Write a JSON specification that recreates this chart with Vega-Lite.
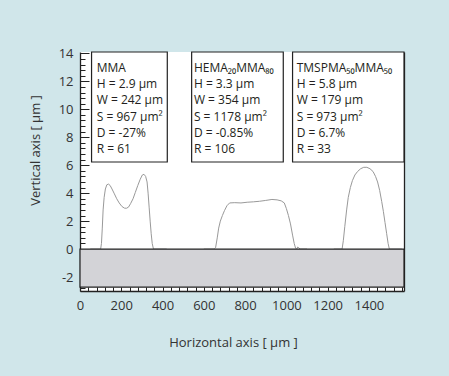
{
  "$schema": "https://vega.github.io/schema/vega-lite/v6.json",
  "width": 324,
  "height": 239,
  "autosize": {"type": "none"},
  "padding": {"left": 80, "top": 52, "right": 45, "bottom": 85},
  "background": "#d0e6ea",
  "config": {"view": {"stroke": null, "fill": "white"}, "font": "Open Sans"},
  "datasets": {
    "profiles": [
      {"s": "MMA", "x": 50, "y": 0}, {"s": "MMA", "x": 100, "y": 0}, {"s": "MMA", "x": 104, "y": 0.4}, {"s": "MMA", "x": 108, "y": 1.5}, {"s": "MMA", "x": 112, "y": 2.8}, {"s": "MMA", "x": 117, "y": 3.7}, {"s": "MMA", "x": 123, "y": 4.3}, {"s": "MMA", "x": 130, "y": 4.6}, {"s": "MMA", "x": 138, "y": 4.65}, {"s": "MMA", "x": 146, "y": 4.55}, {"s": "MMA", "x": 155, "y": 4.3}, {"s": "MMA", "x": 165, "y": 4.0}, {"s": "MMA", "x": 178, "y": 3.6}, {"s": "MMA", "x": 190, "y": 3.3}, {"s": "MMA", "x": 203, "y": 3.05}, {"s": "MMA", "x": 215, "y": 2.93}, {"s": "MMA", "x": 225, "y": 2.92}, {"s": "MMA", "x": 235, "y": 3.0}, {"s": "MMA", "x": 245, "y": 3.25}, {"s": "MMA", "x": 257, "y": 3.6}, {"s": "MMA", "x": 268, "y": 4.05}, {"s": "MMA", "x": 280, "y": 4.55}, {"s": "MMA", "x": 292, "y": 5.0}, {"s": "MMA", "x": 302, "y": 5.3}, {"s": "MMA", "x": 310, "y": 5.35}, {"s": "MMA", "x": 318, "y": 5.2}, {"s": "MMA", "x": 325, "y": 4.8}, {"s": "MMA", "x": 330, "y": 4.0}, {"s": "MMA", "x": 335, "y": 3.0}, {"s": "MMA", "x": 340, "y": 2.0}, {"s": "MMA", "x": 345, "y": 1.1}, {"s": "MMA", "x": 350, "y": 0.4}, {"s": "MMA", "x": 356, "y": 0}, {"s": "MMA", "x": 420, "y": 0},
      {"s": "HEMA", "x": 600, "y": 0}, {"s": "HEMA", "x": 650, "y": 0}, {"s": "HEMA", "x": 657, "y": 0.1}, {"s": "HEMA", "x": 665, "y": 0.8}, {"s": "HEMA", "x": 672, "y": 1.5}, {"s": "HEMA", "x": 680, "y": 2.0}, {"s": "HEMA", "x": 690, "y": 2.4}, {"s": "HEMA", "x": 700, "y": 2.75}, {"s": "HEMA", "x": 712, "y": 3.1}, {"s": "HEMA", "x": 725, "y": 3.3}, {"s": "HEMA", "x": 750, "y": 3.32}, {"s": "HEMA", "x": 780, "y": 3.3}, {"s": "HEMA", "x": 810, "y": 3.35}, {"s": "HEMA", "x": 840, "y": 3.38}, {"s": "HEMA", "x": 870, "y": 3.42}, {"s": "HEMA", "x": 900, "y": 3.48}, {"s": "HEMA", "x": 930, "y": 3.55}, {"s": "HEMA", "x": 955, "y": 3.52}, {"s": "HEMA", "x": 975, "y": 3.45}, {"s": "HEMA", "x": 990, "y": 3.3}, {"s": "HEMA", "x": 1000, "y": 2.9}, {"s": "HEMA", "x": 1010, "y": 2.4}, {"s": "HEMA", "x": 1020, "y": 1.8}, {"s": "HEMA", "x": 1030, "y": 1.0}, {"s": "HEMA", "x": 1038, "y": 0.4}, {"s": "HEMA", "x": 1045, "y": 0.05}, {"s": "HEMA", "x": 1050, "y": 0}, {"s": "HEMA", "x": 1055, "y": 0.15}, {"s": "HEMA", "x": 1060, "y": 0.1}, {"s": "HEMA", "x": 1066, "y": 0}, {"s": "HEMA", "x": 1100, "y": 0},
      {"s": "TMSPMA", "x": 1230, "y": 0}, {"s": "TMSPMA", "x": 1270, "y": 0}, {"s": "TMSPMA", "x": 1276, "y": 0.6}, {"s": "TMSPMA", "x": 1283, "y": 1.6}, {"s": "TMSPMA", "x": 1292, "y": 2.8}, {"s": "TMSPMA", "x": 1300, "y": 3.7}, {"s": "TMSPMA", "x": 1310, "y": 4.4}, {"s": "TMSPMA", "x": 1320, "y": 4.9}, {"s": "TMSPMA", "x": 1332, "y": 5.3}, {"s": "TMSPMA", "x": 1345, "y": 5.55}, {"s": "TMSPMA", "x": 1360, "y": 5.75}, {"s": "TMSPMA", "x": 1375, "y": 5.85}, {"s": "TMSPMA", "x": 1390, "y": 5.85}, {"s": "TMSPMA", "x": 1405, "y": 5.75}, {"s": "TMSPMA", "x": 1420, "y": 5.55}, {"s": "TMSPMA", "x": 1432, "y": 5.2}, {"s": "TMSPMA", "x": 1442, "y": 4.8}, {"s": "TMSPMA", "x": 1452, "y": 4.2}, {"s": "TMSPMA", "x": 1462, "y": 3.4}, {"s": "TMSPMA", "x": 1470, "y": 2.7}, {"s": "TMSPMA", "x": 1478, "y": 1.9}, {"s": "TMSPMA", "x": 1486, "y": 1.1}, {"s": "TMSPMA", "x": 1493, "y": 0.4}, {"s": "TMSPMA", "x": 1499, "y": 0}, {"s": "TMSPMA", "x": 1560, "y": 0}
    ],
    "ground": [{"x1": 0, "x2": 1570, "y1": -2.72, "y2": 0}],
    "boxes": [
      {"x1": 56, "x2": 423, "y1": 6.23, "y2": 14.1},
      {"x1": 541, "x2": 985, "y1": 6.23, "y2": 14.1},
      {"x1": 1030, "x2": 1570, "y1": 6.23, "y2": 14.1}
    ],
    "texts": [
      {"t": "MMA", "x": 81, "y": 12.98}, {"t": "H = 2.9 µm", "x": 81, "y": 11.81}, {"t": "W = 242 µm", "x": 81, "y": 10.65}, {"t": "S = 967 µm²", "x": 81, "y": 9.48}, {"t": "D = -27%", "x": 81, "y": 8.32}, {"t": "R = 61", "x": 81, "y": 7.15},
      {"t": "HEMA₂₀MMA₈₀", "x": 552, "y": 12.98}, {"t": "H = 3.3 µm", "x": 552, "y": 11.81}, {"t": "W = 354 µm", "x": 552, "y": 10.65}, {"t": "S = 1178 µm²", "x": 552, "y": 9.48}, {"t": "D = -0.85%", "x": 552, "y": 8.32}, {"t": "R = 106", "x": 552, "y": 7.15},
      {"t": "TMSPMA₅₀MMA₅₀", "x": 1050, "y": 12.98}, {"t": "H = 5.8 µm", "x": 1050, "y": 11.81}, {"t": "W = 179 µm", "x": 1050, "y": 10.65}, {"t": "S = 973 µm²", "x": 1050, "y": 9.48}, {"t": "D = 6.7%", "x": 1050, "y": 8.32}, {"t": "R = 33", "x": 1050, "y": 7.15}
    ]
  },
  "layer": [
    {
      "data": {"name": "profiles"},
      "mark": {"type": "line", "color": "#999999", "strokeWidth": 1},
      "encoding": {
        "x": {
          "field": "x", "type": "quantitative",
          "scale": {"domain": [0, 1570], "nice": false, "zero": false},
          "axis": {
            "orient": "bottom",
            "values": [0,40,80,120,160,200,240,280,320,360,400,440,480,520,560,600,640,680,720,760,800,840,880,920,960,1000,1040,1080,1120,1160,1200,1240,1280,1320,1360,1400,1440,1480,1520,1560],
            "labelExpr": "datum.value % 200 === 0 ? datum.value + '' : ''",
            "tickSize": -4,
            "labelPadding": 12,
            "labelOverlap": false,
            "labelFlush": false,
            "labelFontSize": 13,
            "labelColor": "#333333",
            "domainColor": "#222222",
            "domainWidth": 1.3,
            "tickColor": "#222222",
            "tickWidth": 1,
            "grid": false,
            "title": "Horizontal axis [ µm ]",
            "titleFontSize": 13,
            "titleFontWeight": "normal",
            "titleColor": "#333333",
            "titleX": 153,
            "titleY": 51,
            "titleAlign": "center",
            "titleBaseline": "middle"
          }
        },
        "y": {
          "field": "y", "type": "quantitative",
          "scale": {"domain": [-3, 14.1], "nice": false, "zero": false},
          "axis": {
            "orient": "left",
            "values": [-2.8,-2.4,-2,-1.6,-1.2,-0.8,-0.4,0,0.4,0.8,1.2,1.6,2,2.4,2.8,3.2,3.6,4,4.4,4.8,5.2,5.6,6,6.4,6.8,7.2,7.6,8,8.4,8.8,9.2,9.6,10,10.4,10.8,11.2,11.6,12,12.4,12.8,13.2,13.6,14],
            "labelExpr": "abs(datum.value % 2) < 0.001 ? datum.value + '' : ''",
            "tickSize": {"condition": {"test": "abs(datum.value % 2) < 0.001", "value": -9}, "value": -5},
            "labelPadding": 16,
            "labelOverlap": false,
            "labelFlush": false,
            "labelFontSize": 13,
            "labelColor": "#333333",
            "domainColor": "#222222",
            "domainWidth": 1.3,
            "tickColor": "#222222",
            "tickWidth": 1,
            "grid": false,
            "title": "Vertical axis [ µm ]",
            "titleFontSize": 13,
            "titleFontWeight": "normal",
            "titleColor": "#333333",
            "titleX": -45,
            "titleY": 98,
            "titleAngle": -90,
            "titleAlign": "center",
            "titleBaseline": "middle"
          }
        },
        "detail": {"field": "s"}
      }
    },
    {
      "data": {"name": "ground"},
      "mark": {"type": "rect", "fill": "#d3d3d7", "stroke": "#222222", "strokeWidth": 1.2},
      "encoding": {
        "x": {"field": "x1", "type": "quantitative", "scale": {"domain": [0, 1570], "nice": false, "zero": false}, "axis": null},
        "x2": {"field": "x2"},
        "y": {"field": "y1", "type": "quantitative", "scale": {"domain": [-3, 14.1], "nice": false, "zero": false}, "axis": null},
        "y2": {"field": "y2"}
      }
    },
    {
      "data": {"name": "boxes"},
      "mark": {"type": "rect", "fill": "white", "stroke": "#222222", "strokeWidth": 1.2},
      "encoding": {
        "x": {"field": "x1", "type": "quantitative", "scale": {"domain": [0, 1570], "nice": false, "zero": false}, "axis": null},
        "x2": {"field": "x2"},
        "y": {
          "field": "y1", "type": "quantitative",
          "scale": {"domain": [-3, 14.1], "nice": false, "zero": false},
          "axis": {"orient": "right", "labels": false, "ticks": false, "domain": true, "domainColor": "#222222", "domainWidth": 1.3, "title": null, "grid": false}
        },
        "y2": {"field": "y2"}
      }
    },
    {
      "data": {"name": "texts"},
      "mark": {"type": "text", "align": "left", "baseline": "middle", "fontSize": 12, "font": "Open Sans", "color": "#231f20"},
      "encoding": {
        "x": {"field": "x", "type": "quantitative", "scale": {"domain": [0, 1570], "nice": false, "zero": false}, "axis": null},
        "y": {"field": "y", "type": "quantitative", "scale": {"domain": [-3, 14.1], "nice": false, "zero": false}, "axis": null},
        "text": {"field": "t"}
      }
    }
  ],
  "resolve": {"axis": {"x": "independent", "y": "independent"}}
}
